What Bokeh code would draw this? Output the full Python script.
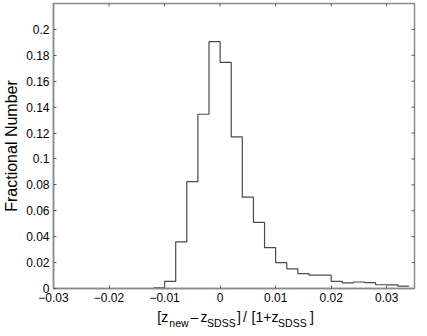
import math
from bokeh.plotting import figure
from bokeh.models import FixedTicker, Range1d, ColumnDataSource
from bokeh.layouts import column
from bokeh.core.properties import value
from bokeh.embed import file_html
from bokeh.resources import INLINE

# ---- data ----
bin_edges = [-0.012, -0.010, -0.008, -0.006, -0.004, -0.002, 0.000, 0.002,
             0.004, 0.006, 0.008, 0.010, 0.012, 0.014, 0.016, 0.018, 0.020,
             0.022, 0.024, 0.026, 0.028, 0.030, 0.032, 0.034]
fractions = [0.0005, 0.0055, 0.0360, 0.0825, 0.1345, 0.1905, 0.1745, 0.1170,
             0.0705, 0.0510, 0.0315, 0.0200, 0.0152, 0.0115, 0.0103, 0.0103,
             0.0055, 0.0043, 0.0050, 0.0045, 0.0029, 0.0028, 0.0019]

x_ticks = [-0.03, -0.02, -0.01, 0.0, 0.01, 0.02, 0.03]
x_tick_labels = ["\u22120.03", "\u22120.02", "\u22120.01", "0", "0.01", "0.02", "0.03"]
y_ticks = [0.0, 0.02, 0.04, 0.06, 0.08, 0.1, 0.12, 0.14, 0.16, 0.18, 0.2]
y_tick_labels = ["0", "0.02", "0.04", "0.06", "0.08", "0.1", "0.12", "0.14", "0.16", "0.18", "0.2"]

y_label = "Fractional Number"
# x label pieces: text, is_subscript
x_label_pieces = [("[z", False), ("new", True), ("\u2013", False), ("z", False),
                  ("SDSS", True), ("]", False), ("/", False), ("[1+z", False),
                  ("SDSS", True), ("]", False)]

X_MIN, X_MAX = -0.03, 0.035
Y_MIN, Y_MAX = 0.0, 0.22

FONT = "Liberation Sans"
AXIS_COL = "#8a8a8a"
TICK_COL = "#5a5a5a"
LINE_COL = "#4a4a4a"

W = 419
LEFT, RIGHT = 52, 5

xr = Range1d(X_MIN, X_MAX)
p = figure(width=W, height=306, output_backend="svg", toolbar_location=None,
           x_range=xr, y_range=Range1d(Y_MIN, Y_MAX),
           min_border_left=LEFT, min_border_right=RIGHT, min_border_top=3,
           min_border_bottom=18, background_fill_color="white",
           border_fill_color="white")
p.grid.visible = False
p.outline_line_color = AXIS_COL
p.outline_line_width = 1.5

# histogram as stairs
step_y = fractions + [fractions[-1]]
p.step(x=bin_edges, y=step_y, mode="after", line_color=LINE_COL, line_width=1.2)

# inward ticks on the top and right edges (half of each dash is clipped by the frame)
p.scatter(x=x_ticks, y=[Y_MAX] * len(x_ticks), marker="dash", size=6,
          angle=math.pi / 2, line_color=TICK_COL, line_width=1)
p.scatter(x=[X_MAX] * len(y_ticks), y=y_ticks, marker="dash", size=6,
          line_color=TICK_COL, line_width=1)

def style(ax):
    ax.axis_line_color = AXIS_COL
    ax.axis_line_width = 1.5
    ax.major_tick_in = 3
    ax.major_tick_out = 0
    ax.minor_tick_in = 0
    ax.minor_tick_out = 0
    ax.major_tick_line_color = TICK_COL
    ax.major_tick_line_width = 1
    ax.major_label_text_font = FONT
    ax.major_label_text_color = "black"
    ax.major_label_text_font_size = "12px"

xa = p.xaxis[0]
style(xa)
xa.ticker = FixedTicker(ticks=x_ticks)
xa.major_label_overrides = {t: s for t, s in zip(x_ticks, x_tick_labels)}
xa.major_label_standoff = 4

ya = p.yaxis[0]
style(ya)
ya.ticker = FixedTicker(ticks=y_ticks)
ya.major_label_overrides = {t: s for t, s in zip(y_ticks, y_tick_labels)}
ya.major_label_standoff = 4
ya.axis_label = y_label
ya.axis_label_text_font = FONT
ya.axis_label_text_font_size = "16px"
ya.axis_label_text_font_style = "normal"
ya.axis_label_text_color = "black"
ya.axis_label_standoff = 3

# x axis label (with subscripts) in a thin strip below, sharing the x range
SH = 22
q = figure(width=W, height=SH, output_backend="svg", toolbar_location=None,
           x_range=xr, y_range=Range1d(0, SH),
           min_border_left=LEFT, min_border_right=RIGHT, min_border_top=0,
           min_border_bottom=0, background_fill_color="white",
           border_fill_color="white", outline_line_color=None)
q.axis.visible = False
q.grid.visible = False

offsets = [-62.8, -50.8, -29.5, -19.5, -13.0, 17.0, 23.0, 31.5, 58.0, 90.0]
src = ColumnDataSource(dict(
    x=[0.0] * len(x_label_pieces),
    y=[5.5 if s else 11.5 for _, s in x_label_pieces],
    text=[t for t, _ in x_label_pieces],
    xo=offsets,
    size=["10.5px" if s else "14px" for _, s in x_label_pieces],
))
q.text(x="x", y="y", text="text", x_offset="xo", source=src,
       text_font=value(FONT), text_font_size="size", text_color="black",
       text_align="left", text_baseline="alphabetic")

layout = column(p, q, spacing=0)
open("out.html", "w").write(file_html(layout, INLINE))
